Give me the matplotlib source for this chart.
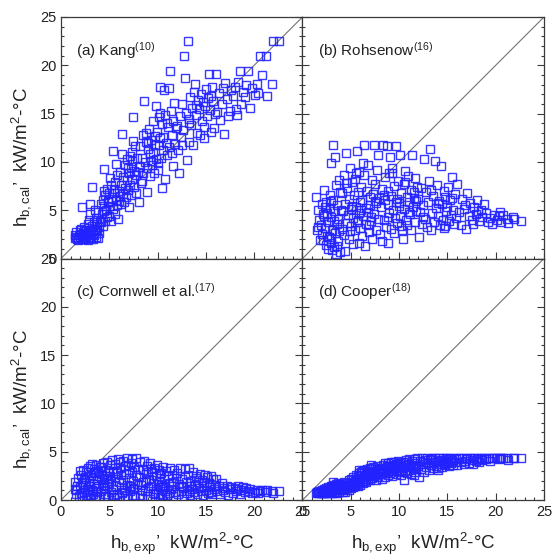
import matplotlib
matplotlib.use("Agg")
import matplotlib.pyplot as plt
from matplotlib.ticker import MultipleLocator

plt.rcParams['font.family'] = ['Liberation Sans', 'DejaVu Sans']
plt.rcParams['mathtext.fontset'] = 'custom'
plt.rcParams['mathtext.rm'] = 'Liberation Sans'
plt.rcParams['mathtext.it'] = 'Liberation Sans:italic'

# Measured boiling heat transfer coefficients (kW/m2-C)
hb_exp = [
    1.4, 1.5, 1.6, 1.7, 1.8, 1.9, 2.0, 2.0, 2.1, 2.2,
    2.2, 2.3, 2.4, 2.4, 2.5, 2.6, 2.6, 2.7, 2.8, 2.8,
    2.9, 3.0, 3.0, 3.1, 3.1, 3.2, 3.2, 3.3, 3.3, 3.4,
    3.4, 3.5, 3.5, 3.6, 3.6, 3.7, 3.7, 3.8, 3.8, 3.9,
    3.9, 4.0, 1.6, 2.1, 2.5, 2.9, 3.3, 3.6, 2.3, 3.0,
    4.1, 4.1, 4.2, 4.3, 4.3, 4.4, 4.4, 4.5, 4.6, 4.6,
    4.7, 4.8, 4.8, 4.9, 5.0, 5.0, 5.1, 5.2, 5.2, 5.3,
    5.4, 5.4, 5.5, 5.6, 5.6, 5.7, 5.8, 5.8, 5.9, 6.0,
    6.0, 6.1, 6.2, 6.2, 6.3, 6.4, 6.4, 6.5, 6.6, 6.6,
    6.7, 6.8, 6.8, 6.9, 7.0, 7.0, 7.1, 7.2, 7.2, 7.3,
    7.4, 7.4, 7.5, 7.6, 7.6, 7.7, 7.8, 7.8, 7.9, 8.0,
    4.5, 5.1, 5.7, 6.3, 6.9, 7.5, 4.9, 5.5, 6.1, 7.1,
    8.1, 8.2, 8.2, 8.3, 8.4, 8.5, 8.5, 8.6, 8.7, 8.8,
    8.9, 8.9, 9.0, 9.1, 9.2, 9.2, 9.3, 9.4, 9.5, 9.5,
    9.6, 9.7, 9.8, 9.8, 9.9, 10.0, 10.1, 10.1, 10.2, 10.3,
    10.4, 10.5, 10.5, 10.6, 10.7, 10.8, 10.8, 10.9, 11.0, 11.1,
    11.2, 11.2, 11.3, 11.4, 11.5, 11.6, 11.6, 11.7, 11.8, 11.9,
    8.4, 8.8, 9.3, 9.7, 10.2, 10.6, 11.0, 11.5, 9.0, 10.0,
    12.0, 12.1, 12.2, 12.3, 12.4, 12.5, 12.6, 12.7, 12.8, 12.9,
    13.0, 13.1, 13.2, 13.3, 13.4, 13.5, 13.6, 13.7, 13.8, 13.9,
    14.0, 14.1, 14.2, 14.3, 14.4, 14.5, 14.6, 14.7, 14.8, 14.9,
    15.0, 15.1, 15.2, 15.3, 15.4, 15.5, 15.6, 15.7, 15.8, 15.9,
    12.5, 13.3, 14.0, 14.8, 15.5,
    16.0, 16.2, 16.4, 16.5, 16.7, 16.9, 17.0, 17.2, 17.3, 17.5,
    17.6, 17.8, 18.0, 18.1, 18.3, 18.5, 18.6, 18.8, 19.0, 19.2,
    19.4, 19.6, 19.8, 16.8, 18.2,
    20.1, 20.3, 20.4, 20.6, 21.2, 21.3, 21.8, 21.9, 22.6, 20.8,
]

# Predicted values from each correlation, same order as hb_exp
hb_kang = [
    2.4, 2.1, 2.7, 2.0, 1.9, 2.4, 2.9, 2.2, 3.1, 5.3,
    2.0, 2.6, 3.3, 2.0, 2.8, 2.1, 3.0, 2.5, 3.6, 1.9,
    2.2, 3.0, 4.6, 2.7, 2.1, 7.4, 3.4, 2.0, 2.9, 3.8,
    2.4, 3.1, 5.0, 2.2, 4.2, 2.8, 3.6, 2.1, 4.8, 3.3,
    2.6, 3.9, 2.2, 2.5, 2.3, 4.0, 2.5, 3.0, 2.0, 5.6,
    3.8, 5.6, 4.6, 3.4, 6.1, 9.3, 4.9, 5.4, 3.9, 6.6,
    5.0, 4.3, 7.2, 5.8, 4.4, 6.8, 5.4, 3.9, 7.6, 6.2,
    11.1, 5.1, 6.8, 4.6, 7.9, 6.1, 5.5, 8.6, 4.1, 7.0,
    6.0, 9.0, 5.6, 7.6, 12.9, 6.7, 8.4, 5.9, 7.3, 9.7,
    6.4, 8.1, 10.3, 7.1, 5.3, 8.8, 7.6, 9.5, 6.6, 11.0,
    8.2, 10.1, 14.6, 7.4, 9.1, 11.6, 8.6, 6.8, 10.4, 9.0,
    7.0, 8.3, 9.8, 10.8, 9.4, 12.2, 6.0, 7.2, 6.5, 10.6,
    5.8, 9.5, 11.6, 7.8, 10.4, 12.8, 8.9, 16.3, 10.0, 12.1,
    6.9, 9.4, 11.3, 13.4, 8.5, 10.8, 12.3, 9.7, 14.2, 11.0,
    8.8, 12.7, 15.8, 10.3, 13.1, 9.2, 11.7, 14.6, 17.8, 12.5,
    10.4, 7.3, 13.9, 11.2, 17.4, 8.2, 14.9, 12.0, 10.7, 13.6,
    17.7, 11.5, 19.4, 15.3, 12.8, 9.6, 14.2, 16.1, 11.9, 13.5,
    8.0, 13.0, 10.1, 11.8, 15.1, 12.6, 14.0, 10.9, 12.0, 9.9,
    13.7, 11.2, 8.8, 14.8, 12.6, 16.0, 13.3, 21.0, 18.7, 15.1,
    10.2, 22.5, 14.4, 12.1, 16.7, 13.8, 15.6, 11.7, 17.2, 18.1,
    14.9, 13.0, 16.4, 15.5, 12.8, 17.0, 14.2, 16.2, 13.6, 15.8,
    17.5, 14.7, 16.6, 19.1, 15.4, 13.1, 17.8, 16.3, 13.5, 15.0,
    11.8, 14.0, 15.9, 12.5, 16.8,
    19.1, 15.2, 17.1, 14.3, 16.0, 12.9, 18.2, 16.5, 14.8, 15.3,
    17.4, 16.8, 17.8, 15.5, 18.3, 19.4, 16.0, 17.2, 16.7, 18.0,
    19.4, 15.6, 17.7, 17.6, 14.9,
    16.9, 18.1, 17.1, 21.0, 21.0, 16.8, 18.1, 22.5, 22.5, 19.0,
]

hb_rohsenow = [
    6.4, 2.9, 5.0, 4.0, 1.9, 3.5, 5.6, 2.5, 1.9, 4.4,
    7.1, 3.2, 1.4, 5.9, 4.7, 1.0, 3.8, 2.2, 6.6, 5.2,
    1.6, 9.9, 4.3, 0.9, 3.0, 11.8, 6.1, 1.2, 4.9, 2.6,
    10.5, 7.6, 0.5, 3.6, 5.5, 1.8, 4.1, 8.1, 2.8, 6.9,
    0.7, 5.0, 3.3, 4.6, 2.3, 6.0, 3.9, 1.3, 5.3, 2.0,
    3.1, 6.8, 4.9, 2.4, 8.6, 0.8, 5.6, 10.9, 3.7, 7.3,
    4.5, 2.0, 6.2, 9.4, 3.4, 5.1, 7.9, 1.5, 4.2, 6.6,
    2.9, 8.2, 5.3, 11.1, 3.8, 6.9, 1.6, 4.7, 9.0, 5.8,
    3.2, 7.4, 2.3, 6.1, 4.4, 11.8, 8.6, 1.3, 5.2, 3.6,
    7.0, 4.8, 9.7, 2.7, 6.4, 5.5, 3.9, 8.1, 2.0, 6.7,
    11.8, 4.6, 7.7, 3.0, 5.7, 9.2, 10.7, 4.1, 6.3, 2.5,
    7.8, 5.4, 4.0, 9.9, 3.5, 6.0, 2.8, 8.8, 5.0, 4.3,
    5.3, 1.8, 7.2, 11.8, 4.0, 6.1, 8.4, 3.3, 11.6, 5.6,
    1.6, 7.0, 4.7, 10.5, 6.5, 3.1, 8.8, 5.0, 2.6, 7.5,
    4.2, 11.6, 6.2, 3.7, 8.0, 5.4, 10.7, 4.4, 6.8, 3.0,
    2.0, 7.7, 5.1, 9.1, 4.0, 6.4, 3.5, 8.5, 5.8, 4.6,
    7.1, 2.9, 10.7, 5.3, 6.9, 3.8, 8.3, 4.9, 6.0, 7.4,
    6.6, 4.3, 9.4, 5.9, 3.4, 7.9, 4.8, 6.3, 8.9, 5.7,
    6.2, 2.2, 4.8, 7.3, 3.6, 5.5, 10.3, 4.1, 6.9, 3.3,
    5.9, 8.0, 11.3, 2.9, 4.7, 6.5, 3.8, 10.1, 5.2, 7.6,
    4.4, 6.0, 3.5, 9.6, 5.6, 4.0, 7.0, 3.2, 6.4, 4.9,
    5.3, 7.4, 3.9, 6.1, 4.5, 8.4, 5.0, 3.6, 6.7, 4.2,
    4.3, 7.1, 5.7, 3.4, 6.3,
    7.7, 4.8, 3.5, 6.2, 5.1, 3.1, 6.8, 4.4, 5.7, 4.0,
    3.6, 5.3, 4.6, 6.1, 3.9, 5.0, 4.3, 5.6, 4.7, 3.8,
    4.2, 3.6, 4.5, 5.5, 4.9,
    4.0, 4.4, 4.8, 3.8, 4.1, 3.7, 4.3, 4.1, 3.9, 4.5,
]

hb_cornwell = [
    1.9, 1.1, 0.6, 1.5, 2.3, 0.4, 3.0, 1.3, 2.6, 0.3,
    1.9, 3.1, 0.8, 2.2, 1.6, 0.3, 2.9, 1.1, 3.3, 0.5,
    2.0, 1.4, 3.5, 0.2, 2.6, 3.7, 1.0, 2.3, 0.6, 3.2,
    1.7, 2.8, 0.4, 3.6, 1.2, 2.1, 0.8, 3.0, 1.5, 2.5,
    0.3, 3.4, 1.0, 0.7, 2.4, 1.8, 0.9, 2.9, 1.3, 0.5,
    3.4, 0.9, 2.7, 1.6, 3.8, 0.4, 2.2, 1.2, 3.1, 0.6,
    2.5, 3.9, 1.4, 0.3, 2.9, 1.8, 3.6, 0.8, 2.0, 4.1,
    1.1, 3.0, 0.2, 2.4, 3.7, 1.5, 0.6, 2.8, 4.2, 1.9,
    0.3, 3.3, 1.3, 2.6, 0.8, 4.0, 2.1, 1.0, 3.5, 0.4,
    2.7, 4.3, 1.6, 0.2, 3.1, 2.3, 0.9, 3.8, 1.4, 2.9,
    0.5, 4.2, 2.0, 3.4, 1.1, 0.3, 2.6, 4.3, 1.7, 3.2,
    1.9, 2.5, 3.0, 0.7, 3.6, 1.2, 2.2, 0.5, 3.9, 1.5,
    2.4, 0.5, 3.9, 1.6, 0.2, 3.1, 1.9, 4.0, 0.9, 2.7,
    0.4, 3.5, 1.2, 2.2, 0.1, 3.8, 1.5, 2.9, 0.7, 1.8,
    3.3, 0.3, 2.5, 1.1, 3.6, 0.6, 2.0, 3.1, 1.3, 0.2,
    2.8, 1.6, 0.5, 3.4, 2.2, 0.9, 1.4, 3.0, 0.3, 2.5,
    1.8, 0.7, 3.3, 1.1, 2.6, 0.4, 1.9, 3.1, 0.8, 2.3,
    1.0, 2.0, 3.2, 0.6, 2.7, 1.3, 0.5, 1.5, 2.9, 1.7,
    2.8, 0.6, 1.7, 3.3, 0.9, 2.2, 1.3, 0.4, 3.2, 1.9,
    0.7, 2.6, 1.4, 3.3, 0.5, 2.0, 1.1, 2.9, 0.8, 1.6,
    2.5, 0.6, 1.9, 1.2, 2.7, 0.9, 2.1, 0.5, 1.5, 2.6,
    1.0, 2.4, 0.7, 1.8, 1.3, 2.5, 0.6, 2.2, 1.1, 1.6,
    1.5, 0.9, 2.3, 1.9, 0.8,
    2.2, 0.9, 1.5, 0.6, 1.8, 1.2, 0.8, 1.4, 0.5, 1.1,
    1.3, 0.7, 1.2, 0.9, 1.4, 0.6, 1.0, 1.3, 0.8, 1.2,
    0.9, 1.1, 0.7, 1.0, 1.1,
    0.8, 1.0, 0.7, 0.9, 0.8, 1.0, 0.9, 0.7, 0.9, 1.0,
]

hb_cooper = [
    0.7, 0.8, 0.7, 0.9, 0.7, 0.8, 1.0, 0.7, 0.8, 1.1,
    0.7, 0.9, 1.2, 0.7, 1.0, 0.8, 1.3, 0.7, 1.1, 0.9,
    1.4, 0.7, 1.2, 1.5, 0.8, 1.9, 1.1, 0.7, 1.6, 1.3,
    0.8, 1.7, 1.0, 1.4, 0.7, 1.8, 1.2, 0.8, 1.5, 1.0,
    1.7, 1.3, 0.8, 0.7, 0.9, 1.2, 1.0, 1.4, 0.8, 1.1,
    1.0, 1.6, 0.8, 1.3, 1.9, 1.1, 0.8, 1.5, 1.8, 1.2,
    1.4, 1.0, 2.1, 1.6, 1.2, 2.2, 1.8, 1.3, 2.4, 1.5,
    2.0, 1.4, 2.6, 1.7, 2.2, 1.5, 2.8, 1.9, 3.1, 2.3,
    1.6, 2.6, 2.0, 3.0, 1.8, 2.4, 3.1, 2.0, 2.7, 1.9,
    3.2, 2.2, 2.9, 2.5, 3.3, 2.1, 2.7, 3.0, 2.3, 3.4,
    2.5, 2.9, 3.2, 2.1, 2.8, 3.5, 2.4, 3.1, 2.7, 3.3,
    1.3, 1.9, 2.5, 2.2, 2.8, 2.6, 1.7, 2.0, 2.9, 3.6,
    2.7, 3.3, 2.2, 3.6, 2.9, 3.8, 2.4, 3.1, 3.5, 2.6,
    3.8, 3.0, 3.4, 2.8, 3.9, 3.2, 2.5, 3.6, 3.0, 3.9,
    3.3, 2.7, 3.7, 3.1, 4.0, 2.9, 3.5, 3.8, 2.6, 3.3,
    3.9, 2.1, 3.6, 3.0, 4.1, 3.4, 2.8, 3.7, 4.2, 3.1,
    3.5, 2.7, 4.0, 3.3, 3.8, 2.9, 4.2, 3.6, 3.2, 4.3,
    3.2, 2.9, 3.4, 3.7, 3.1, 3.9, 3.6, 2.6, 3.5, 3.0,
    3.5, 2.4, 4.0, 3.2, 4.3, 3.7, 2.9, 4.1, 3.4, 4.4,
    3.8, 3.1, 4.2, 3.6, 4.4, 3.3, 3.9, 4.3, 3.5, 4.0,
    3.1, 4.4, 3.7, 4.1, 3.4, 4.3, 3.8, 4.0, 3.6, 4.4,
    3.9, 4.2, 3.5, 4.3, 3.8, 4.1, 3.6, 4.4, 3.9, 4.2,
    3.9, 4.1, 3.3, 3.7, 4.0,
    3.6, 4.3, 3.9, 4.4, 3.7, 4.2, 4.4, 3.8, 4.3, 4.1,
    3.7, 4.4, 4.0, 4.3, 3.9, 4.4, 4.1, 4.3, 4.2, 4.4,
    4.0, 4.3, 4.4, 4.0, 4.2,
    4.3, 4.2, 4.4, 4.3, 4.4, 4.1, 4.4, 4.3, 4.4, 4.3,
]

panel_titles = [
    r"(a) Kang$^{\rm (10)}$",
    r"(b) Rohsenow$^{\rm (16)}$",
    r"(c) Cornwell et al.$^{\rm (17)}$",
    r"(d) Cooper$^{\rm (18)}$",
]
panel_values = [hb_kang, hb_rohsenow, hb_cornwell, hb_cooper]
axis_limits = [0, 25]
ytitle = r"h$_{\rm b,cal}$’  kW/m$^{\rm 2}$-°C"
xtitle = r"h$_{\rm b,exp}$’  kW/m$^{\rm 2}$-°C"

fig = plt.figure(figsize=(5.52, 5.57), dpi=100)
gs = fig.add_gridspec(2, 2, left=0.1105, right=0.9855, top=0.9695,
                      bottom=0.1023, hspace=0, wspace=0)

spine_col = "#3a3a3a"
for k in range(4):
    r, c = divmod(k, 2)
    ax = fig.add_subplot(gs[r, c])
    ax.plot(axis_limits, axis_limits, color="0.45", lw=0.8, zorder=1)
    ax.plot(hb_exp, panel_values[k], ls="none", marker="s", ms=5.8,
            mfc="none", mec="#2222ff", mew=1.0, alpha=0.9, zorder=2)
    ax.set_xlim(axis_limits)
    ax.set_ylim(axis_limits)
    ax.xaxis.set_major_locator(MultipleLocator(5))
    ax.yaxis.set_major_locator(MultipleLocator(5))
    ax.xaxis.set_minor_locator(MultipleLocator(1))
    ax.yaxis.set_minor_locator(MultipleLocator(1))
    ax.tick_params(which="both", direction="in", left=True, right=True,
                   bottom=True, top=False, colors=spine_col,
                   labelcolor="#222222", labelsize=10.5, width=0.8)
    ax.tick_params(which="major", length=5)
    ax.tick_params(which="minor", length=2.5)
    for s in ax.spines.values():
        s.set_color(spine_col)
        s.set_linewidth(0.9)
    ax.text(1.6, 21.0, panel_titles[k], fontsize=11, color="#222222",
            ha="left", va="baseline")
    if r == 0:
        ax.tick_params(labelbottom=False)
    else:
        ax.set_xlabel(xtitle, fontsize=13.5, color="#222222")
        ax.xaxis.set_label_coords(0.5, -0.125)
    if c == 1:
        ax.tick_params(labelleft=False)
    else:
        ax.set_ylabel(ytitle, fontsize=13.5, color="#222222")
        ax.yaxis.set_label_coords(-0.115, 0.42)

fig.savefig("out.png", dpi=100)
